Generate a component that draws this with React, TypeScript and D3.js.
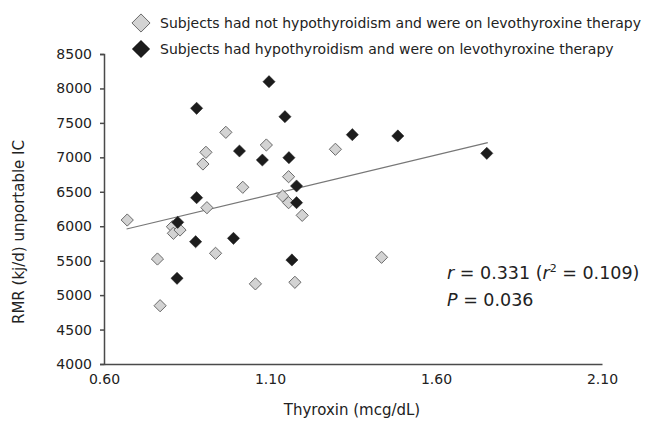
import React from "react";
import * as d3 from "d3";

const lightX = [0.670, 0.761, 0.769, 0.806, 0.809, 0.829, 0.898, 0.907, 0.910, 0.936, 0.967, 1.018, 1.056, 1.089, 1.138, 1.156, 1.156, 1.175, 1.197, 1.297, 1.436];
const lightY = [6090, 5524, 4846, 5993, 5897, 5945, 6903, 7073, 6269, 5607, 7363, 6565, 5163, 7179, 6439, 6719, 6342, 5186, 6158, 7117, 5549];
const darkX = [0.822, 0.820, 0.876, 0.879, 0.879, 0.990, 1.008, 1.077, 1.097, 1.145, 1.157, 1.166, 1.180, 1.180, 1.348, 1.485, 1.753];
const darkY = [6057, 5244, 5775, 7712, 6414, 5824, 7092, 6961, 8098, 7590, 6995, 5510, 6584, 6342, 7329, 7310, 7058];
const regX = [0.668, 1.756];
const regY = [5960, 7213];
const xTicks = [0.6, 1.1, 1.6, 2.1];
const yTicks = [4000, 4500, 5000, 5500, 6000, 6500, 7000, 7500, 8000, 8500];
const legendLabels = [
  "Subjects had not hypothyroidism and were on levothyroxine therapy",
  "Subjects had hypothyroidism and were on levothyroxine therapy",
];

const FONT = "'DejaVu Sans', Verdana, sans-serif";

export default function App() {
  const x = d3.scaleLinear().domain([0.6, 2.1]).range([104, 602]);
  const y = d3.scaleLinear().domain([4000, 8500]).range([364, 54]);
  const diamond = d3.symbol().type(d3.symbolDiamond2).size(95)();
  const legendDiamond = d3.symbol().type(d3.symbolDiamond2).size(210)();
  const line = d3.line<number>().x((d, i) => x(regX[i])).y((d, i) => y(regY[i]));
  const axisColor = "#4a4a4a";

  const yAxisRef = React.useRef<SVGGElement>(null);
  const xAxisRef = React.useRef<SVGGElement>(null);
  React.useEffect(() => {
    if (yAxisRef.current) {
      const g = d3.select(yAxisRef.current);
      g.call(d3.axisLeft(y).tickValues(yTicks).tickSize(4).tickSizeOuter(4).tickPadding(8).tickFormat(d3.format("d")) as any);
      g.selectAll("path, line").attr("stroke", axisColor).attr("stroke-width", 1.5);
      g.selectAll("text").attr("font-family", FONT).attr("font-size", 14).attr("fill", "#222");
    }
    if (xAxisRef.current) {
      const g = d3.select(xAxisRef.current);
      g.call(d3.axisBottom(x).tickValues(xTicks).tickSize(0).tickSizeOuter(0).tickPadding(10).tickFormat(d3.format(".2f")) as any);
      g.selectAll("path").attr("stroke", axisColor).attr("stroke-width", 1.5);
      g.selectAll("line").remove();
      g.selectAll("text").attr("font-family", FONT).attr("font-size", 14).attr("fill", "#222");
    }
  }, []);

  return (
    <svg width={656} height={439} style={{ position: "absolute", left: 0, top: 0, background: "#fff" }}>
      <rect width={656} height={439} fill="#fff" />
      <g ref={yAxisRef} transform={`translate(104,0)`} />
      <g ref={xAxisRef} transform={`translate(0,364)`} />
      <path d={line(regX) || ""} stroke="#777" strokeWidth={1.2} fill="none" />
      {lightX.map((v, i) => (
        <path key={"l" + i} d={diamond} transform={`translate(${x(v)},${y(lightY[i])})`} fill="#d3d3d3" stroke="#6a6a6a" strokeWidth={1} />
      ))}
      {darkX.map((v, i) => (
        <path key={"d" + i} d={diamond} transform={`translate(${x(v)},${y(darkY[i])})`} fill="#1c1c1c" stroke="#1c1c1c" strokeWidth={0.5} />
      ))}
      <g fontFamily={FONT} fontSize={14} fill="#222">
        <path d={legendDiamond} transform="translate(141,23)" fill="#d3d3d3" stroke="#6a6a6a" strokeWidth={1} />
        <text x={160} y={28}>{legendLabels[0]}</text>
        <path d={legendDiamond} transform="translate(141,49)" fill="#1c1c1c" />
        <text x={160} y={54}>{legendLabels[1]}</text>
      </g>
      <g fontFamily={FONT} fontSize={17.5} fill="#222">
        <text x={447} y={279}>
          <tspan fontStyle="italic">r</tspan> = 0.331 (<tspan fontStyle="italic">r</tspan>
          <tspan dy={-7} fontSize={11}>2</tspan>
          <tspan dy={7}> = 0.109)</tspan>
        </text>
        <text x={447} y={306}>
          <tspan fontStyle="italic">P</tspan> = 0.036
        </text>
      </g>
      <text x={352} y={415} textAnchor="middle" fontFamily={FONT} fontSize={15} fill="#222">Thyroxin (mcg/dL)</text>
      <text transform="translate(24,232) rotate(-90)" textAnchor="middle" fontFamily={FONT} fontSize={15} fill="#222">RMR (kj/d) unportable IC</text>
    </svg>
  );
}
